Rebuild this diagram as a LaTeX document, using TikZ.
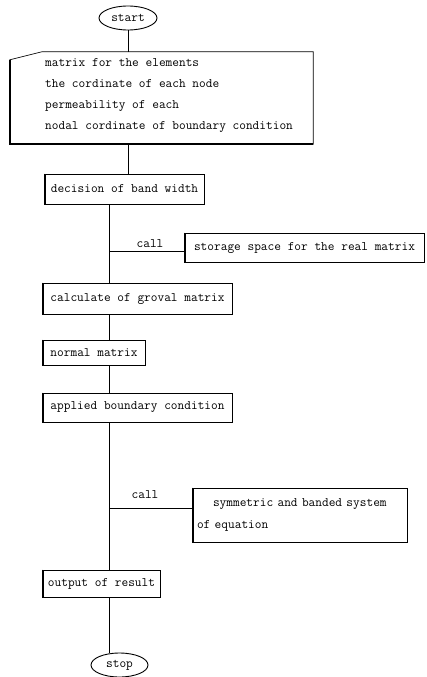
\documentclass[tikz,border=0pt]{standalone}
\usetikzlibrary{shapes.geometric,calc}
\begin{document}
\begin{tikzpicture}[x=1pt,y=-1pt,
  every node/.style={font=\ttfamily\fontsize{13}{15}\selectfont},
  box/.style={draw,line width=0.7pt,inner sep=2pt,align=center},
  term/.style={draw,ellipse,line width=0.9pt,inner sep=0pt},
  heavy/.style={line width=1.6pt},
  conn/.style={line width=0.7pt},
  lbl/.style={inner sep=1pt}]
\useasboundingbox (0,0) rectangle (427,677);
% terminals
\node[term,minimum width=58pt,minimum height=24pt] (start) at (128,18) {start};
\node[term,minimum width=57pt,minimum height=24pt] (stop) at (119.5,665) {stop};
% manual input
\node[minimum width=303pt,minimum height=92pt,inner sep=0pt] (input) at (161.5,98) {};
\node[anchor=west,inner sep=0pt,align=left,font=\ttfamily\fontsize{13}{21}\selectfont] (inputtxt) at (45,95)
  {matrix for the elements\\the cordinate of each node\\permeability of each\\nodal cordinate of boundary condition};
\draw[line width=0.7pt] ($(input.north west)+(0,8)$) -- ($(input.north west)+(32,0)$) -- (input.north east) -- (input.south east) -- (input.south west) -- cycle;
\draw[heavy] ($(input.north west)+(0,8)$) -- (input.south west) -- (input.south east);
% process boxes
\node[box,minimum width=159pt,minimum height=30pt] (decision) at (124.5,189) {decision of band width};
\node[box,minimum width=239pt,minimum height=29pt] (storage) at (304.5,247.5) {storage space for the real matrix};
\node[box,minimum width=189pt,minimum height=31pt] (calc) at (137.5,298.5) {calculate of groval matrix};
\node[box,minimum width=102pt,minimum height=25pt] (normal) at (94,352.5) {normal matrix};
\node[box,minimum width=189pt,minimum height=29pt] (applied) at (137.5,407.5) {applied boundary condition};
\node[box,minimum width=214pt,minimum height=54pt,text width=206pt,align=left,
      font=\ttfamily\fontsize{13}{22}\selectfont] (symm) at (300,515)
  {\hspace*{16pt}symmetric and banded system\\of equation};
\node[box,minimum width=117pt,minimum height=27pt] (output) at (101.5,583.5) {output of result};
\foreach \b in {decision,storage,calc,normal,applied,symm,output}
  \draw[heavy] (\b.north west) -- (\b.south west) -- (\b.south east);
% spine
\coordinate (spine) at (109,0);
\coordinate (b1) at (109,251);
\coordinate (b2) at (109,508);
\draw[conn] (start) -- (start |- input.north);
\draw[conn] (input.south -| start) -- (decision.north -| start);
\draw[conn] (decision.south -| spine) -- (calc.north -| spine);
\draw[conn] (calc.south -| spine) -- (normal.north -| spine);
\draw[conn] (normal.south -| spine) -- (applied.north -| spine);
\draw[conn] (applied.south -| spine) -- (output.north -| spine);
\draw[conn] (output.south -| spine) -- (stop.north -| spine);
% calls
\draw[conn] (b1) -- (b1 -| storage.west);
\draw[conn] (b2) -- (b2 -| symm.west);
\node[lbl,anchor=south] (call1) at (150,249) {call};
\node[lbl,anchor=south] (call2) at (145,500) {call};
\end{tikzpicture}
\end{document}
